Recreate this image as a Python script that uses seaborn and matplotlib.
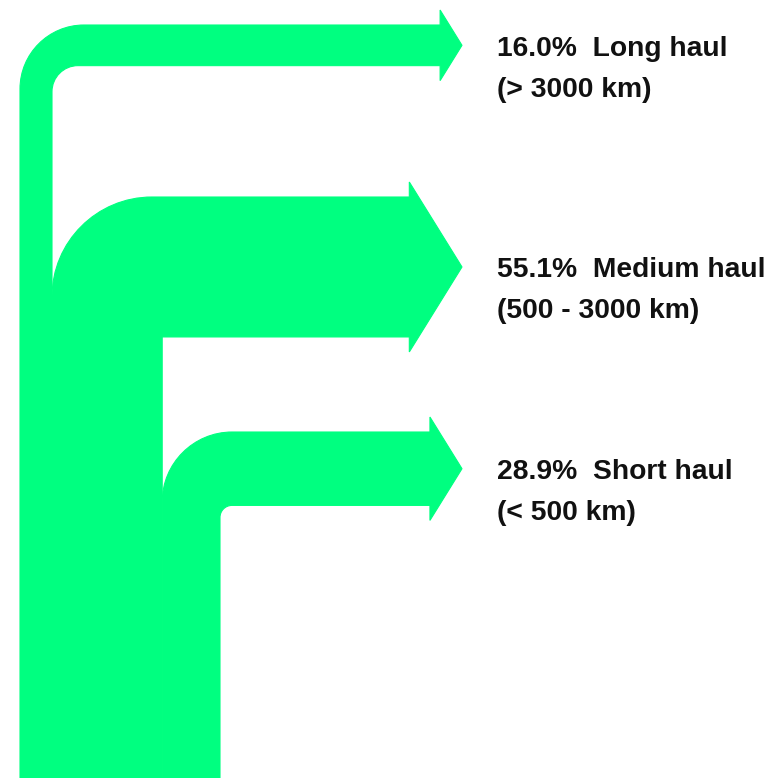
import numpy as np
import matplotlib
matplotlib.use("Agg")
import matplotlib.pyplot as plt
import seaborn as sns
from matplotlib.path import Path
from matplotlib.patches import PathPatch

# data: share of flights by haul length
shares = [16.0, 55.1, 28.9]
names = ['Long haul', 'Medium haul', 'Short haul']
ranges = ['(> 3000 km)', '(500 - 3000 km)', '(< 500 km)']

# layout (pixel units, y pointing down)
W, H = 780, 778
trunk_left = 20
px_per_pct = 2.0      # horizontal thickness per percent
y_stretch = 1.27      # horizontal bands are drawn a bit thicker
band_tops = [25, 197, 432]
inner_r = [26, 0, 12]
outer_r = [64, 100, 70]
tip_x = 462
overhang = 15
head_ratio = 0.62
label_x = 497
color = '#00FF80'

sns.set_style("white")

fig = plt.figure(figsize=(W / 100, H / 100), dpi=100)
ax = fig.add_axes([0, 0, 1, 1])
ax.set_xlim(0, W)
ax.set_ylim(H, 0)
ax.axis('off')

K = 0.5523  # bezier factor for quarter circle


def branch_path(x0, w, yt, h, ri, ro):
    x1 = x0 + w
    yb = yt + h
    half = h / 2 + overhang
    yc = yt + h / 2
    xh = tip_x - head_ratio * half
    verts = [
        (x0, H),
        (x0, yt + ro),
        (x0, yt + ro - K * ro), (x0 + ro - K * ro, yt), (x0 + ro, yt),
        (xh, yt),
        (xh, yc - half),
        (tip_x, yc),
        (xh, yc + half),
        (xh, yb),
        (x1 + ri, yb),
        (x1 + ri - K * ri, yb), (x1, yb + ri - K * ri), (x1, yb + ri),
        (x1, H),
        (x0, H),
    ]
    codes = [Path.MOVETO, Path.LINETO,
             Path.CURVE4, Path.CURVE4, Path.CURVE4,
             Path.LINETO, Path.LINETO, Path.LINETO, Path.LINETO, Path.LINETO,
             Path.LINETO,
             Path.CURVE4, Path.CURVE4, Path.CURVE4,
             Path.LINETO, Path.CLOSEPOLY]
    return Path(verts, codes)


font = dict(fontsize=20.3, fontweight='bold', color='#111111',
            family=['Liberation Sans', 'DejaVu Sans'], va='baseline', ha='left')

x = trunk_left
for share, name, rng, yt, ri, ro in zip(shares, names, ranges, band_tops, inner_r, outer_r):
    w = share * px_per_pct
    h = w * y_stretch
    ax.add_patch(PathPatch(branch_path(x, w, yt, h, ri, ro), facecolor=color,
                           edgecolor=color, lw=0.8))
    yc = yt + h / 2
    ax.text(label_x, yc + 10.5, f"{share:.1f}%  {name}", **font)
    ax.text(label_x, yc + 51.5, rng, **font)
    x += w

fig.savefig('out.png', dpi=100, facecolor='white')
